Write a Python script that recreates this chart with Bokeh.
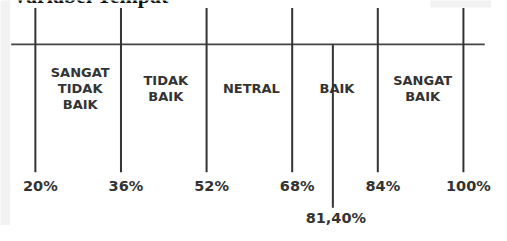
from bokeh.plotting import figure
from bokeh.models import Range1d
from bokeh.embed import file_html
from bokeh.resources import INLINE
from bokeh.core.properties import value

# ---- data ----
title_text = "Variabel Tempat"
tick_values = [20, 36, 52, 68, 84, 100]
tick_labels = ["20%", "36%", "52%", "68%", "84%", "100%"]
categories = ["SANGAT TIDAK BAIK", "TIDAK BAIK", "NETRAL", "BAIK", "SANGAT BAIK"]
result_label = "81,40%"
result_position = 75.6   # where the result marker sits on the drawn scale

# ---- layout constants (y in reference pixels, top = 0) ----
W, H = 491, 225
INK = "#333333"
FONT = value("DejaVu Sans")

p = figure(width=W, height=H, output_backend="svg", toolbar_location=None,
           x_range=Range1d(13.484, 105.25), y_range=Range1d(241, 0),
           min_border=0, outline_line_color=None, background_fill_color="white",
           border_fill_color="white")
p.axis.visible = False
p.grid.visible = False

# light grey strip on the left edge and box at top right
p.quad(left=[13.0], right=[15.29], top=[-5], bottom=[250],
       fill_color="#f2f2f2", line_color=None)
p.quad(left=[93.85], right=[106.0], top=[-5], bottom=[7.5],
       fill_color="#f2f2f2", line_color=None)

# title, mostly cut off at the top edge (as in the source image)
p.text(x=[15.66], y=[-5], text=[title_text], text_align="left", text_baseline="alphabetic",
       text_font=value("Liberation Serif"), text_font_style="bold", text_font_size="22px",
       text_color="#111111")

# main horizontal line
p.segment(x0=[15.48], y0=[47], x1=[103.98], y1=[47], line_color="#444444", line_width=1.6)

# boundary lines
p.segment(x0=tick_values, y0=[8] * len(tick_values), x1=tick_values,
          y1=[184] * len(tick_values), line_color=INK, line_width=2)

# result marker
p.segment(x0=[result_position], y0=[47], x1=[result_position], y1=[222],
          line_color=INK, line_width=2)

# percentage labels
p.text(x=tick_values, y=[199] * len(tick_values), text=tick_labels, x_offset=5,
       text_align="center", text_baseline="middle", text_font=FONT,
       text_font_style="bold", text_font_size="14.5px", text_color=INK)

p.text(x=[result_position], y=[233], text=[result_label], x_offset=3,
       text_align="center", text_baseline="middle", text_font=FONT,
       text_font_style="bold", text_font_size="14.5px", text_color=INK)

# category labels, centred in each interval, stacked word by word
cx, cy, ct = [], [], []
line_gap = 17
for i, cat in enumerate(categories):
    words = cat.split(" ")
    lines = words if len(words) > 1 else [cat]
    mid = (tick_values[i] + tick_values[i + 1]) / 2
    n = len(lines)
    for j, ln in enumerate(lines):
        cx.append(mid)
        cy.append(94 + (j - (n - 1) / 2) * line_gap)
        ct.append(ln)

p.text(x=cx, y=cy, text=ct, x_offset=2, text_align="center", text_baseline="middle",
       text_font=FONT, text_font_style="bold", text_font_size="13px", text_color=INK)

open("out.html", "w").write(file_html(p, INLINE))
